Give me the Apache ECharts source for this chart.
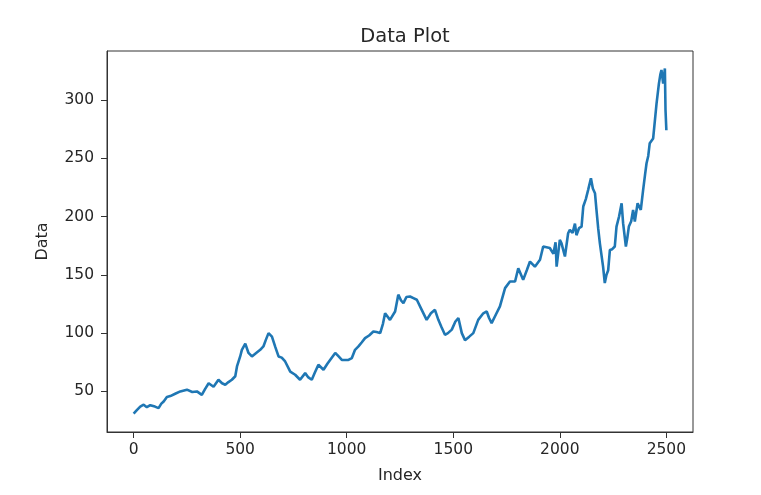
<!DOCTYPE html>
<html>
<head>
<meta charset="utf-8">
<script src="https://cdn.jsdelivr.net/npm/echarts@6/dist/echarts.min.js"></script>
<style>
html,body{margin:0;padding:0;background:#fff;}
#chart{width:761px;height:495px;}
</style>
</head>
<body>
<div id="chart"></div>
<script>
// Sampled readings from the reference (index, value)
var indices = [0,15,31,47,62,78,100,117,130,141,156,172,195,219,250,275,297,320,335,352,375,398,415,430,445,461,477,485,500,508,524,539,555,575,594,609,620,633,649,665,680,695,711,735,758,781,805,820,836,850,867,891,910,922,946,962,977,1008,1024,1039,1055,1070,1086,1105,1125,1140,1157,1170,1180,1203,1227,1242,1255,1266,1280,1297,1313,1329,1352,1375,1395,1414,1430,1445,1461,1475,1493,1510,1524,1540,1555,1575,1594,1617,1641,1657,1668,1680,1700,1719,1743,1766,1790,1805,1828,1845,1860,1883,1907,1922,1953,1970,1980,1985,2000,2008,2024,2032,2039,2047,2060,2071,2078,2090,2102,2110,2122,2133,2146,2155,2165,2172,2180,2188,2203,2211,2219,2227,2235,2246,2258,2266,2278,2290,2297,2310,2317,2324,2335,2344,2352,2365,2380,2391,2400,2407,2415,2422,2430,2438,2446,2454,2465,2472,2477,2485,2490,2493,2496,2500];
var values = [31,34,37,38.6,36.5,38.2,37,35.7,39.5,41.4,45.2,46,48,50,51.5,49.5,50,47,52,57,54,60,57,55.7,58,60,63,71.4,80,85.7,91,83,80,83,85.7,88.6,94,100,97,88,80,79,75.7,67,64.3,60,65.7,62,60,66,72.9,68.6,74,77,83,80,77,77,78.6,85.7,88.6,92,95.7,98,101.4,101,100,108,117,111.4,118.6,133,128,125.7,131,131.4,130,128.6,120,111.4,117,120,111.4,105,98.6,100,103,110,113,100,94,97,100,111.4,117,118.6,113,108.6,116,122.9,138.6,144.3,144.3,155.7,145.7,154,161.4,157,162.9,174.3,173,168,178,157,180,177,165.7,164,185.7,188.6,186,194,184,190,191.4,208.6,215,222.9,232.9,224,220,205.7,190,177,157,143,150,154,171.4,172,174.3,191.4,200,211.4,194.3,174.3,182,191.4,196,205.7,195.7,211.4,205.7,222.9,236,245.7,252,262.9,264,267,282,297,314,322,325.7,314,322,327,291.4,274];
var xTicks = [0,500,1000,1500,2000,2500];
var yTicks = [50,100,150,200,250,300];

var seriesData = indices.map(function(x,i){return [x, values[i]];});
var txt = '#262626';
var font = 'DejaVu Sans';
function plain(v){return String(v);}

var chart = echarts.init(document.getElementById('chart'), null, {renderer:'canvas'});
chart.setOption({
  animation:false,
  backgroundColor:'#fff',
  title:{
    text:'Data Plot', left:400, top:22, textAlign:'center',
    textStyle:{fontFamily:font, fontSize:19.5, fontWeight:'normal', color:txt}
  },
  grid:{left:107, right:68, top:51, bottom:63, show:true, borderColor:'#333', borderWidth:1, backgroundColor:'transparent'},
  xAxis:{
    type:'value', min:-125, max:2625,
    name:'Index', nameLocation:'middle', nameGap:36,
    nameTextStyle:{fontFamily:font, fontSize:16, color:txt},
    axisLine:{show:true, onZero:false, lineStyle:{color:'#333', width:1}},
    axisTick:{show:true, length:6, lineStyle:{color:'#333'}, customValues:xTicks},
    axisLabel:{fontFamily:font, fontSize:15.5, color:txt, margin:10, customValues:xTicks, formatter:plain},
    splitLine:{show:false}
  },
  yAxis:{
    type:'value', min:15.2, max:342,
    name:'Data', nameLocation:'middle', nameGap:56, nameRotate:90,
    nameTextStyle:{fontFamily:font, fontSize:16, color:txt},
    axisLine:{show:true, onZero:false, lineStyle:{color:'#333', width:1}},
    axisTick:{show:true, length:6, lineStyle:{color:'#333'}, customValues:yTicks},
    axisLabel:{fontFamily:font, fontSize:15.5, color:txt, margin:13, customValues:yTicks, formatter:plain},
    splitLine:{show:false}
  },
  series:[{
    type:'line', data:seriesData, showSymbol:false, symbol:'none',
    lineStyle:{color:'#1f77b4', width:2.6}, clip:true
  }]
});
</script>
</body>
</html>
